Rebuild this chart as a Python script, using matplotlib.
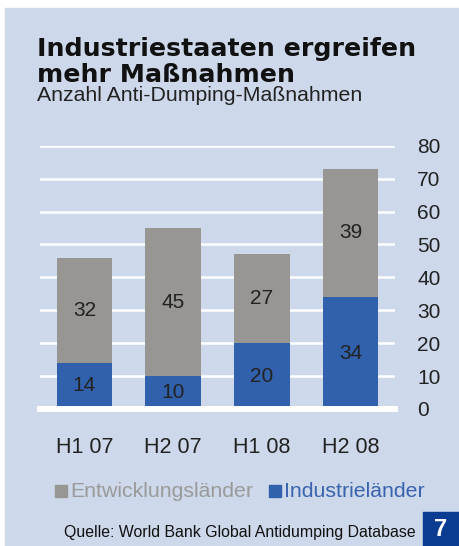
import matplotlib.pyplot as plt
from matplotlib.patches import Rectangle

# data
periods = ["H1 07", "H2 07", "H1 08", "H2 08"]
industrie = [14, 10, 20, 34]
entwicklung = [32, 45, 27, 39]
y_ticks = [0, 10, 20, 30, 40, 50, 60, 70, 80]

BG = "#cdd8ea"
GRAY = "#979693"
BLUE = "#3161ac"
DARK = "#0a3c92"

W, H = 459, 546


def main():
    plt.rcParams["font.family"] = ["Liberation Sans", "DejaVu Sans"]
    fig = plt.figure(figsize=(W / 100, H / 100), dpi=100)
    fig.patch.set_facecolor("white")

    # light blue panel and page number box
    fig.patches.append(Rectangle((5 / W, 0), 1, (H - 8) / H,
                                 transform=fig.transFigure, color=BG, zorder=0))
    fig.patches.append(Rectangle((423 / W, 0), 1, 34 / H,
                                 transform=fig.transFigure, color=DARK, zorder=1))
    fig.text(441 / W, 17 / H, "7", color="white", fontsize=17,
             fontweight="bold", ha="center", va="center")

    # titles
    fig.text(37 / W, (H - 56) / H, "Industriestaaten ergreifen",
             fontsize=18.2, fontweight="heavy", family="DejaVu Sans",
             color="#111111", va="baseline")
    fig.text(37 / W, (H - 82) / H, "mehr Maßnahmen",
             fontsize=18.2, fontweight="heavy", family="DejaVu Sans",
             color="#111111", va="baseline")
    fig.text(37 / W, (H - 101) / H, "Anzahl Anti-Dumping-Maßnahmen",
             fontsize=15.3, color="#222222", va="baseline")

    ax = fig.add_axes([40 / W, 137 / H, 355 / W, 263.3 / H])
    ax.set_zorder(3)
    ax.patch.set_alpha(0)
    x = range(len(periods))
    ax.bar(x, industrie, width=0.625, color=BLUE, zorder=2)
    ax.bar(x, entwicklung, width=0.625, bottom=industrie, color=GRAY, zorder=2)

    for i in x:
        ax.text(i, industrie[i] / 2, str(industrie[i]), ha="center",
                va="center", fontsize=15, color="#222222", zorder=4)
        ax.text(i, industrie[i] + entwicklung[i] / 2, str(entwicklung[i]),
                ha="center", va="center", fontsize=15, color="#222222", zorder=4)

    for t in y_ticks[1:]:
        ax.axhline(t, color="white", lw=1.8, zorder=1)
    ax.axhline(0, color="white", lw=4.3, zorder=3, clip_on=False)

    ax.set_xlim(-0.5, 3.5)
    ax.set_ylim(0, 80)
    ax.set_xticks(list(x))
    ax.set_xticklabels(periods)
    ax.set_yticks(y_ticks)
    ax.yaxis.tick_right()
    ax.tick_params(axis="y", length=0, pad=16, labelsize=15,
                   labelcolor="#222222")
    ax.tick_params(axis="x", length=0, pad=20, labelsize=15.5,
                   labelcolor="#222222")
    for s in ax.spines.values():
        s.set_visible(False)

    # legend drawn as text with square markers
    fig.patches.append(Rectangle((55 / W, (H - 497) / H), 12 / W, 12 / H,
                                 transform=fig.transFigure, color=GRAY, zorder=2))
    fig.text(70 / W, (H - 497) / H, "Entwicklungsländer", fontsize=15.3,
             color="#9a9a9a", va="baseline")
    fig.patches.append(Rectangle((269 / W, (H - 497) / H), 12 / W, 12 / H,
                                 transform=fig.transFigure, color=BLUE, zorder=2))
    fig.text(284 / W, (H - 497) / H, "Industrieländer", fontsize=15.3,
             color="#3a63ad", va="baseline")

    fig.text(416 / W, (H - 537) / H, "Quelle: World Bank Global Antidumping Database",
             fontsize=11.4, color="#111111", ha="right", va="baseline")

    fig.savefig("out.png", dpi=100)


if __name__ == "__main__":
    main()
